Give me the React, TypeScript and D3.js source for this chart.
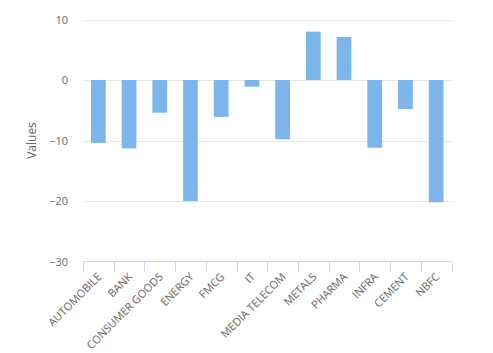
import { useEffect, useRef } from "react";
import * as d3 from "d3";

const categories = [
  "AUTOMOBILE",
  "BANK",
  "CONSUMER GOODS",
  "ENERGY",
  "FMCG",
  "IT",
  "MEDIA TELECOM",
  "METALS",
  "PHARMA",
  "INFRA",
  "CEMENT",
  "NBFC",
];
const values = [-10.4, -11.3, -5.4, -20, -6.1, -1.1, -9.8, 8.0, 7.1, -11.2, -4.8, -20.2];
const yTicks = [-30, -20, -10, 0, 10];

const width = 493;
const height = 353;
const left = 83;
const right = 451.5;
const top = 19.5;
const bottom = 261.5;

export default function App() {
  const ref = useRef<SVGSVGElement | null>(null);

  useEffect(() => {
    if (!ref.current) return;
    const svg = d3.select(ref.current);
    svg.selectAll("*").remove();

    const font = "'Open Sans', sans-serif";
    const x = d3.scaleBand<string>().domain(categories).range([left, right]).padding(0);
    const y = d3.scaleLinear().domain([-30, 10]).range([bottom, top]);

    // gridlines
    svg
      .append("g")
      .selectAll("line")
      .data(yTicks.filter((t) => t !== -30))
      .enter()
      .append("line")
      .attr("x1", left)
      .attr("x2", right)
      .attr("y1", (d) => Math.round(y(d)) + 0.5)
      .attr("y2", (d) => Math.round(y(d)) + 0.5)
      .attr("stroke", "#e6e6e6")
      .attr("stroke-width", 1);

    // y labels
    svg
      .append("g")
      .selectAll("text")
      .data(yTicks)
      .enter()
      .append("text")
      .attr("x", 68)
      .attr("y", (d) => y(d) + 4)
      .attr("text-anchor", "end")
      .attr("font-family", font)
      .attr("font-size", 11)
      .attr("fill", "#666666")
      .text((d) => (d < 0 ? "\u2212" + Math.abs(d) : String(d)));

    // y title
    svg
      .append("text")
      .attr("transform", `translate(36,${(top + bottom) / 2}) rotate(-90)`)
      .attr("text-anchor", "middle")
      .attr("font-family", font)
      .attr("font-size", 12)
      .attr("fill", "#666666")
      .text("Values");

    // bars
    const bw = x.bandwidth() * 0.48;
    svg
      .append("g")
      .selectAll("rect")
      .data(values)
      .enter()
      .append("rect")
      .attr("x", (_, i) => (x(categories[i]) as number) + (x.bandwidth() - bw) / 2)
      .attr("y", (d) => y(Math.max(0, d)))
      .attr("width", bw)
      .attr("height", (d) => Math.abs(y(d) - y(0)))
      .attr("fill", "#7cb5ec");

    // x axis line
    svg
      .append("line")
      .attr("x1", left)
      .attr("x2", right)
      .attr("y1", bottom)
      .attr("y2", bottom)
      .attr("stroke", "#ccd6eb");

    // ticks at category edges
    const edges = categories.map((c) => x(c) as number).concat([right]);
    svg
      .append("g")
      .selectAll("line")
      .data(edges)
      .enter()
      .append("line")
      .attr("x1", (d) => Math.round(d) + 0.5)
      .attr("x2", (d) => Math.round(d) + 0.5)
      .attr("y1", bottom)
      .attr("y2", bottom + 10)
      .attr("stroke", "#ccd6eb");

    // x labels
    svg
      .append("g")
      .selectAll("text")
      .data(categories)
      .enter()
      .append("text")
      .attr(
        "transform",
        (d) => `translate(${(x(d) as number) + x.bandwidth() / 2 + 4},${bottom + 16}) rotate(-45)`
      )
      .attr("text-anchor", "end")
      .attr("font-family", font)
      .attr("font-size", 11)
      .attr("fill", "#666666")
      .text((d) => d);
  }, []);

  return (
    <svg
      ref={ref}
      width={width}
      height={height}
      style={{ position: "absolute", left: 0, top: 0, background: "#fff" }}
    />
  );
}
